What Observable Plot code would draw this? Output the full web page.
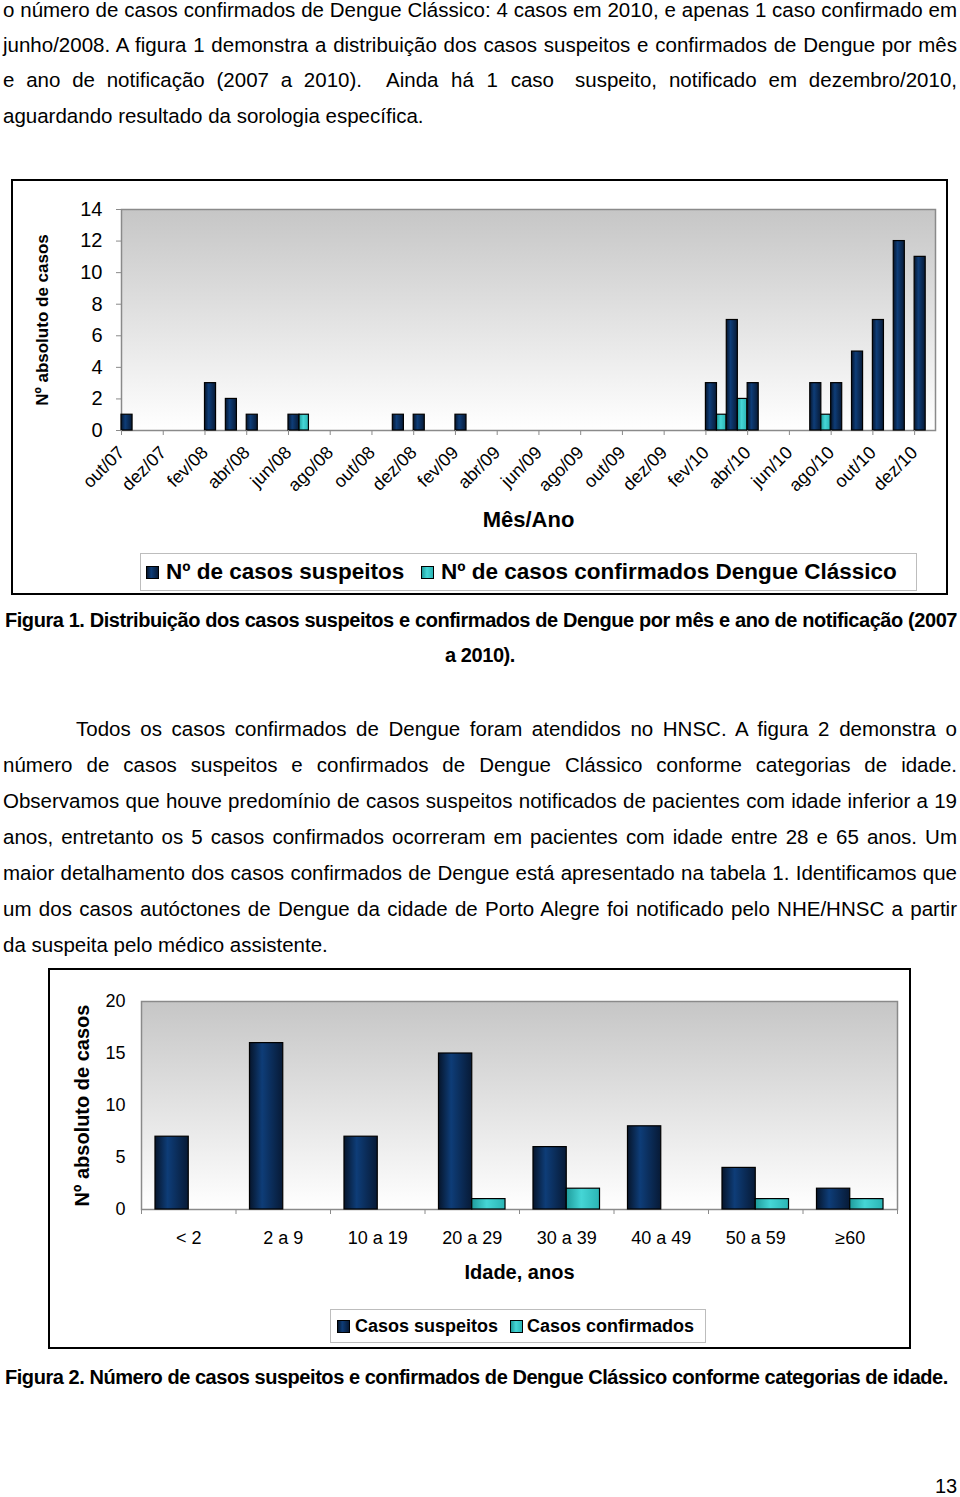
<!DOCTYPE html>
<html><head><meta charset="utf-8">
<script src="https://cdn.jsdelivr.net/npm/d3@7"></script>
<script src="https://cdn.jsdelivr.net/npm/@observablehq/plot@0.6"></script>
<style>
html,body{margin:0;padding:0;background:#fff;}
body{width:960px;height:1497px;position:relative;overflow:hidden;font-family:"Liberation Sans",Arial,sans-serif;color:#000;}
.ln{position:absolute;left:3px;width:954px;height:36px;line-height:36px;font-size:20.5px;white-space:nowrap;text-align:justify;text-align-last:justify;}
.ln.l{text-align:left;text-align-last:left;}
.seg{position:absolute;top:0;height:36px;line-height:36px;font-size:20.5px;white-space:nowrap;text-align:justify;text-align-last:justify;}
.cap{font-weight:bold;font-size:20px;letter-spacing:-0.45px;}
.box{position:absolute;border:2px solid #000;box-sizing:border-box;}
.chart{position:absolute;}
.legend{position:absolute;border:1px solid #bdbdbd;box-sizing:border-box;background:#fff;font-weight:bold;white-space:nowrap;}
.legend span{position:absolute;}
.sw{border:1px solid #000;box-sizing:border-box;}
</style></head>
<body>
<div class="ln" style="top:-8px">o número de casos confirmados de Dengue Clássico: 4 casos em 2010, e apenas 1 caso confirmado em</div>
<div class="ln" style="top:27px">junho/2008. A figura 1 demonstra a distribuição dos casos suspeitos e confirmados de Dengue por mês</div>
<div class="ln" style="top:62px;text-align-last:left">
  <div class="seg" style="left:0;width:359px">e ano de notificação (2007 a 2010).</div>
  <div class="seg" style="left:383px;width:168px">Ainda há 1 caso</div>
  <div class="seg" style="left:572px;width:382px">suspeito, notificado em dezembro/2010,</div>
</div>
<div class="ln l" style="top:98px">aguardando resultado da sorologia específica.</div>

<div class="box" style="left:11px;top:179px;width:937px;height:416px"></div>
<div id="chart1" class="chart" style="left:11px;top:179px"></div>
<div class="legend" style="left:140px;top:553px;width:777px;height:38px;font-size:22.5px">
  <span class="sw" id="l1a" style="left:5px;top:12px;width:13px;height:13px"></span>
  <span style="left:25px;top:5px;line-height:26px">Nº de casos suspeitos</span>
  <span class="sw" id="l1b" style="left:280px;top:12px;width:13px;height:13px"></span>
  <span style="left:300px;top:5px;line-height:26px">Nº de casos confirmados Dengue Clássico</span>
</div>

<div class="ln cap" style="top:602px;left:5px;width:952px;height:36px;line-height:36px">Figura 1. Distribuição dos casos suspeitos e confirmados de Dengue por mês e ano de notificação (2007</div>
<div class="ln cap" style="top:637px;left:5px;width:950px;text-align:center;text-align-last:center">a 2010).</div>

<div class="ln" style="top:711px;left:76px;width:881px">Todos os casos confirmados de Dengue foram atendidos no HNSC. A figura 2 demonstra o</div>
<div class="ln" style="top:747px">número de casos suspeitos e confirmados de Dengue Clássico conforme categorias de idade.</div>
<div class="ln" style="top:783px">Observamos que houve predomínio de casos suspeitos notificados de pacientes com idade inferior a 19</div>
<div class="ln" style="top:819px">anos, entretanto os 5 casos confirmados ocorreram em pacientes com idade entre 28 e 65 anos. Um</div>
<div class="ln" style="top:855px">maior detalhamento dos casos confirmados de Dengue está apresentado na tabela 1. Identificamos que</div>
<div class="ln" style="top:891px">um dos casos autóctones de Dengue da cidade de Porto Alegre foi notificado pelo NHE/HNSC a partir</div>
<div class="ln l" style="top:927px">da suspeita pelo médico assistente.</div>

<div class="box" style="left:48px;top:968px;width:863px;height:381px"></div>
<div id="chart2" class="chart" style="left:48px;top:968px"></div>
<div class="legend" style="left:330px;top:1309px;width:376px;height:34px;font-size:18px">
  <span class="sw" id="l2a" style="left:6px;top:10px;width:13px;height:13px"></span>
  <span style="left:24px;top:4px;line-height:24px">Casos suspeitos</span>
  <span class="sw" id="l2b" style="left:179px;top:10px;width:13px;height:13px"></span>
  <span style="left:196px;top:4px;line-height:24px">Casos confirmados</span>
</div>

<div class="ln l cap" style="top:1359px;left:5px">Figura 2. Número de casos suspeitos e confirmados de Dengue Clássico conforme categorias de idade.</div>
<div class="ln l" style="top:1468px;left:935px;width:30px;font-size:20px">13</div>

<script>
// ---------- Data: Figura 1 (por mês/ano) ----------
const meses = ["out/07","nov/07","dez/07","jan/08","fev/08","mar/08","abr/08","mai/08","jun/08","jul/08","ago/08","set/08","out/08","nov/08","dez/08","jan/09","fev/09","mar/09","abr/09","mai/09","jun/09","jul/09","ago/09","set/09","out/09","nov/09","dez/09","jan/10","fev/10","mar/10","abr/10","mai/10","jun/10","jul/10","ago/10","set/10","out/10","nov/10","dez/10"];
const suspeitosMes   = [1,0,0,0,3,2,1,0,1,0,0,0,0,1,1,0,1,0,0,0,0,0,0,0,0,0,0,0,3,7,3,0,0,3,3,5,7,12,11];
const confirmadosMes = [0,0,0,0,0,0,0,0,1,0,0,0,0,0,0,0,0,0,0,0,0,0,0,0,0,0,0,0,1,2,0,0,0,1,0,0,0,0,0];
const ticksMes1 = [0,2,4,6,8,10,12,14];

// ---------- Data: Figura 2 (por faixa etária) ----------
const faixas = ["< 2","2 a 9","10 a 19","20 a 29","30 a 39","40 a 49","50 a 59","≥60"];
const suspeitosIdade   = [7,16,7,15,6,8,4,2];
const confirmadosIdade = [0,0,0,1,2,0,1,1];
const ticksIdade = [0,5,10,15,20];

const series = ["Casos suspeitos","Casos confirmados"];
const navyStops = [["0%","#06152b"],["38%","#0e3d78"],["100%","#071a36"]];
const tealStops = [["0%","#1f9c9c"],["45%","#45d6d6"],["100%","#2bb4b4"]];

function defsMark(prefix) {
  return () => {
    const defs = d3.create("svg:defs");
    const bg = defs.append("linearGradient").attr("id", prefix + "bg")
      .attr("x1", 0).attr("y1", 0).attr("x2", 0).attr("y2", 1);
    bg.append("stop").attr("offset", "0%").attr("stop-color", "#c6c6c6");
    bg.append("stop").attr("offset", "100%").attr("stop-color", "#ffffff");
    for (const [name, stops] of [["navy", navyStops], ["teal", tealStops]]) {
      const g = defs.append("linearGradient").attr("id", prefix + name)
        .attr("x1", 0).attr("y1", 0).attr("x2", 1).attr("y2", 0);
      for (const [o, c] of stops) g.append("stop").attr("offset", o).attr("stop-color", c);
    }
    return defs.node();
  };
}

const fontFam = "'Liberation Sans', Arial, sans-serif";

// ---------- Chart 1 ----------
const rows1 = meses.map((m, i) => ({i, mes: m, susp: suspeitosMes[i], conf: confirmadosMes[i]}));
const chart1 = Plot.plot({
  width: 937, height: 372,
  marginLeft: 110, marginRight: 13, marginTop: 30, marginBottom: 121,
  x: {domain: [0, meses.length]},
  y: {domain: [0, 14]},
  style: {fontFamily: fontFam, fontSize: "18px", color: "#000", background: "transparent", overflow: "visible"},
  marks: [
    defsMark("c1"),
    Plot.frame({fill: "url(#c1bg)", stroke: "#8a8a8a", strokeWidth: 1.5}),
    Plot.rect(rows1.filter(d => d.susp > 0), {x1: d => d.i, x2: d => d.i + 0.53, y1: 0, y2: "susp", fill: "url(#c1navy)", stroke: "#000", strokeWidth: 1.2}),
    Plot.rect(rows1.filter(d => d.conf > 0), {x1: d => d.i + 0.53, x2: d => d.i + 0.98, y1: 0, y2: "conf", fill: "url(#c1teal)", stroke: "#000", strokeWidth: 1.2}),
    Plot.axisY({ticks: ticksMes1, tickSize: 5, tickPadding: 14, fontSize: 20, stroke: "#8a8a8a", label: null}),
    Plot.axisX({ticks: d3.range(0, meses.length, 2), tickFormat: i => meses[i], tickRotate: -45, tickSize: 5, tickPadding: 14, fontSize: 18, stroke: "#8a8a8a", label: null}),
    Plot.text(["Nº absoluto de casos"], {text: d => d, frameAnchor: "left", dx: -79, rotate: -90, textAnchor: "middle", lineAnchor: "middle", fontSize: 17, fontWeight: "bold"}),
    Plot.text(["Mês/Ano"], {text: d => d, frameAnchor: "bottom", dy: 89, textAnchor: "middle", lineAnchor: "middle", fontSize: 22, fontWeight: "bold"})
  ]
});
document.getElementById("chart1").append(chart1);

// ---------- Chart 2 ----------
const rows2 = faixas.map((f, i) => ({i, faixa: f, susp: suspeitosIdade[i], conf: confirmadosIdade[i]}));
const chart2 = Plot.plot({
  width: 863, height: 330,
  marginLeft: 93, marginRight: 14, marginTop: 33, marginBottom: 89,
  x: {domain: [0, faixas.length]},
  y: {domain: [0, 20]},
  style: {fontFamily: fontFam, fontSize: "18px", color: "#000", background: "transparent", overflow: "visible"},
  marks: [
    defsMark("c2"),
    Plot.frame({fill: "url(#c2bg)", stroke: "#8a8a8a", strokeWidth: 1.5}),
    Plot.rect(rows2.filter(d => d.susp > 0), {x1: d => d.i + 0.148, x2: d => d.i + 0.5, y1: 0, y2: "susp", fill: "url(#c2navy)", stroke: "#000", strokeWidth: 1.2}),
    Plot.rect(rows2.filter(d => d.conf > 0), {x1: d => d.i + 0.5, x2: d => d.i + 0.852, y1: 0, y2: "conf", fill: "url(#c2teal)", stroke: "#000", strokeWidth: 1.2}),
    Plot.axisY({ticks: ticksIdade, tickSize: 0, tickPadding: 16, fontSize: 18, label: null}),
    Plot.axisX({ticks: d3.range(0, faixas.length + 1), tickFormat: () => "", tickSize: 5, stroke: "#8a8a8a", label: null}),
    Plot.axisX({ticks: faixas.map((_, i) => i + 0.5), tickFormat: t => faixas[Math.floor(t)], tickSize: 0, tickPadding: 22, fontSize: 18, label: null}),
    Plot.text(["Nº absoluto de casos"], {text: d => d, frameAnchor: "left", dx: -59, rotate: -90, textAnchor: "middle", lineAnchor: "middle", fontSize: 20, fontWeight: "bold"}),
    Plot.text(["Idade, anos"], {text: d => d, frameAnchor: "bottom", dy: 63, textAnchor: "middle", lineAnchor: "middle", fontSize: 20, fontWeight: "bold"})
  ]
});
document.getElementById("chart2").append(chart2);

// legend swatches use the same fills as the series
const bgOf = stops => `linear-gradient(to right, ${stops.map(([o, c]) => c + " " + o).join(", ")})`;
for (const id of ["l1a", "l2a"]) document.getElementById(id).style.background = bgOf(navyStops);
for (const id of ["l1b", "l2b"]) document.getElementById(id).style.background = bgOf(tealStops);
</script>
</body></html>
